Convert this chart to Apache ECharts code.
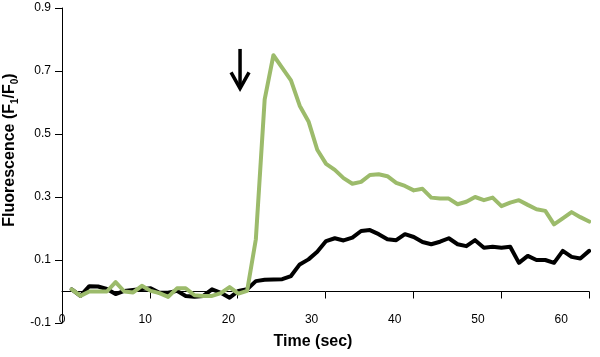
<!DOCTYPE html>
<html>
<head>
<meta charset="utf-8">
<script src="https://cdn.jsdelivr.net/npm/echarts@6/dist/echarts.min.js"></script>
<style>
html,body{margin:0;padding:0;background:#fff;}
#chart{width:600px;height:357px;}
</style>
</head>
<body>
<div id="chart"></div>
<script>
// Sample times (sec)
const times = [1.17, 2.22, 3.28, 4.33, 5.39, 6.44, 7.49, 8.55, 9.60, 10.66,
  11.71, 12.76, 13.82, 14.87, 15.93, 16.98, 18.03, 19.09, 20.14, 21.20,
  22.25, 23.30, 24.36, 25.41, 26.47, 27.52, 28.57, 29.63, 30.68, 31.74,
  32.79, 33.84, 34.90, 35.95, 37.01, 38.06, 39.11, 40.17, 41.22, 42.28,
  43.33, 44.38, 45.44, 46.49, 47.55, 48.60, 49.65, 50.71, 51.76, 52.82,
  53.87, 54.92, 55.98, 57.03, 58.09, 59.14, 60.19, 61.25, 62.30, 63.36];

// Black trace (F1/F0)
const blackValues = [0.007, -0.014, 0.017, 0.016, 0.008, -0.008, 0.002, 0.005, 0.008, 0.010,
  -0.004, -0.004, 0.002, -0.014, -0.017, -0.014, 0.007, -0.004, -0.020, 0.002,
  0.007, 0.033, 0.037, 0.038, 0.039, 0.049, 0.086, 0.102, 0.126, 0.160,
  0.169, 0.162, 0.171, 0.192, 0.195, 0.182, 0.166, 0.163, 0.182, 0.173,
  0.157, 0.150, 0.158, 0.169, 0.150, 0.144, 0.163, 0.139, 0.142, 0.139,
  0.142, 0.091, 0.113, 0.100, 0.100, 0.091, 0.129, 0.110, 0.105, 0.129];

// Green trace (F1/F0)
const greenValues = [0.007, -0.014, 0.000, 0.000, 0.000, 0.030, 0.000, -0.003, 0.018, 0.002,
  -0.005, -0.017, 0.010, 0.010, -0.012, -0.014, -0.014, -0.005, 0.014, -0.007,
  0.002, 0.166, 0.610, 0.750, 0.710, 0.670, 0.590, 0.540, 0.450, 0.405,
  0.386, 0.360, 0.342, 0.348, 0.370, 0.372, 0.366, 0.345, 0.335, 0.321,
  0.326, 0.298, 0.295, 0.295, 0.277, 0.285, 0.300, 0.290, 0.298, 0.271,
  0.282, 0.290, 0.275, 0.261, 0.256, 0.213, 0.232, 0.252, 0.236, 0.222];

const xLabelValues = [0, 10, 20, 30, 40, 50, 60];
const xTickPositions = [0, 10.557, 21.114, 31.671, 42.228, 52.785, 63.342];
const yLabelValues = [-0.1, 0.1, 0.3, 0.5, 0.7, 0.9];

// Stimulus arrow (data coords)
const arrowX = 21.4;
const arrowTop = 0.77;
const arrowBottom = 0.645;

const X_MAX = 63.342;
const FONT = 'Liberation Sans, Arial, sans-serif';

const chart = echarts.init(document.getElementById('chart'), null, {renderer: 'canvas'});

const labelFont = {fontFamily: FONT, fontSize: 12, color: '#000'};

const option = {
  animation: false,
  grid: {left: 62, right: 11, top: 8, bottom: 34},
  xAxis: [
    {
      type: 'value', min: 0, max: X_MAX, position: 'bottom',
      axisLine: {show: false, onZero: false},
      axisTick: {show: false},
      splitLine: {show: false},
      axisLabel: Object.assign({customValues: xLabelValues, margin: -3, verticalAlign: 'middle'}, labelFont)
    },
    {
      type: 'value', min: 0, max: X_MAX, position: 'bottom',
      axisLine: {show: true, onZero: true, lineStyle: {color: '#000', width: 1}},
      axisTick: {show: true, length: 7, inside: false, customValues: xTickPositions, lineStyle: {color: '#000', width: 1}},
      axisLabel: {show: false},
      splitLine: {show: false}
    }
  ],
  yAxis: {
    type: 'value', min: -0.1, max: 0.9,
    axisLine: {show: true, onZero: false, lineStyle: {color: '#000', width: 1}},
    axisTick: {show: true, length: 7, customValues: yLabelValues, lineStyle: {color: '#000', width: 1}},
    splitLine: {show: false},
    axisLabel: Object.assign({customValues: yLabelValues, margin: 11, formatter: v => (Math.round(v * 10) / 10).toFixed(1)}, labelFont)
  },
  series: [
    {
      name: 'black', type: 'line', xAxisIndex: 0,
      data: times.map((t, i) => [t, blackValues[i]]),
      showSymbol: false, symbol: 'none',
      lineStyle: {color: '#000000', width: 4, join: 'round', cap: 'round'},
      z: 2
    },
    {
      name: 'green', type: 'line', xAxisIndex: 0,
      data: times.map((t, i) => [t, greenValues[i]]),
      showSymbol: false, symbol: 'none',
      lineStyle: {color: '#9cbb6b', width: 4, join: 'round', cap: 'round'},
      z: 3
    }
  ]
};

chart.setOption(option);

// Arrow annotation positioned through the axis scales
const pTop = chart.convertToPixel({xAxisIndex: 0, yAxisIndex: 0}, [arrowX, arrowTop]);
const pBot = chart.convertToPixel({xAxisIndex: 0, yAxisIndex: 0}, [arrowX, arrowBottom]);

chart.setOption({
  graphic: [
    {
      id: 'ytitle', type: 'text', x: 10, y: 150, rotation: Math.PI / 2,
      style: {
        text: '{a|Fluorescence (F}{s|1}{a|/F}{s|0}{a|)}',
        align: 'center', verticalAlign: 'middle',
        rich: {
          a: {fontFamily: FONT, fontSize: 16, fontWeight: 'bold', fill: '#000', lineHeight: 20, verticalAlign: 'middle'},
          s: {fontFamily: FONT, fontSize: 10, fontWeight: 'bold', fill: '#000', lineHeight: 20, verticalAlign: 'bottom'}
        }
      }
    },
    {
      id: 'xtitle', type: 'text', x: 313, y: 342,
      style: {
        text: 'Time (sec)', align: 'center', verticalAlign: 'middle',
        fontFamily: FONT, fontSize: 16, fontWeight: 'bold', fill: '#000'
      }
    },
    {
      id: 'arrowShaft', type: 'line', shape: {x1: pTop[0], y1: pTop[1], x2: pBot[0], y2: pBot[1] - 1},
      style: {stroke: '#000', lineWidth: 3.5}
    },
    {
      id: 'arrowHead', type: 'polyline', shape: {points: [[pBot[0] - 9, pBot[1] - 16], [pBot[0], pBot[1]], [pBot[0] + 9, pBot[1] - 16]]},
      style: {stroke: '#000', lineWidth: 3.5, fill: null}
    }
  ]
});
</script>
</body>
</html>
